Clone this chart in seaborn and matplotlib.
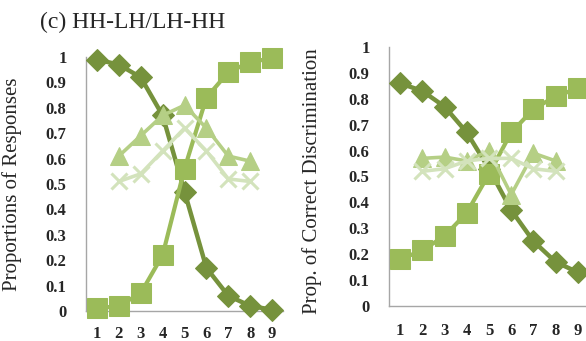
import numpy as np
import pandas as pd
import matplotlib
matplotlib.use('Agg')
import matplotlib.pyplot as plt
import seaborn as sns

steps = [1, 2, 3, 4, 5, 6, 7, 8, 9]
mid_steps = [2, 3, 4, 5, 6, 7, 8]

# panel (c) left: proportions of responses
resp_diamond = [0.99, 0.97, 0.92, 0.77, 0.47, 0.17, 0.06, 0.02, 0.005]
resp_square = [0.01, 0.02, 0.07, 0.22, 0.56, 0.84, 0.94, 0.98, 0.995]
resp_triangle = [0.61, 0.69, 0.77, 0.81, 0.72, 0.61, 0.59]
resp_cross = [0.51, 0.54, 0.63, 0.72, 0.63, 0.52, 0.51]

# right: proportion of correct discrimination
disc_diamond = [0.86, 0.83, 0.77, 0.67, 0.53, 0.37, 0.25, 0.17, 0.13]
disc_square = [0.18, 0.215, 0.27, 0.36, 0.51, 0.67, 0.76, 0.81, 0.84]
disc_triangle = [0.57, 0.575, 0.56, 0.60, 0.43, 0.59, 0.56]
disc_cross = [0.52, 0.53, 0.56, 0.57, 0.57, 0.53, 0.52]

yticks = [0, 0.1, 0.2, 0.3, 0.4, 0.5, 0.6, 0.7, 0.8, 0.9, 1]
ytick_labels = ['0', '0.1', '0.2', '0.3', '0.4', '0.5', '0.6', '0.7', '0.8', '0.9', '1']

c_diamond = '#76923C'
c_square = '#9BBB59'
c_triangle = '#B5CF85'
c_cross = '#D3E3BC'

sns.set_style('white')
plt.rcParams['font.family'] = ['Liberation Serif', 'DejaVu Serif']

W, H = 586, 341
fig = plt.figure(figsize=(W / 100, H / 100), dpi=100)
ax1 = fig.add_axes([86 / W, (H - 311) / H, 197 / W, 254 / H])
ax2 = fig.add_axes([389 / W, (H - 306) / H, 200 / W, 259 / H])


def draw(ax, d, s, t, c):
    sns.lineplot(x=steps, y=d, ax=ax, color=c_diamond, lw=3.2, marker='D',
                 ms=11.5, mec=c_diamond, clip_on=False, zorder=3)
    sns.lineplot(x=steps, y=s, ax=ax, color=c_square, lw=3.0, marker='s',
                 ms=15, mec=c_square, clip_on=False, zorder=4)
    sns.lineplot(x=mid_steps, y=t, ax=ax, color=c_triangle, lw=2.6, marker='^',
                 ms=13, mec=c_triangle, clip_on=False, zorder=5)
    sns.lineplot(x=mid_steps, y=c, ax=ax, color=c_cross, lw=2.6, marker='x',
                 ms=12, mew=2.2, mec=c_cross, clip_on=False, zorder=6)
    ax.set_xlim(0.5, 9.5)
    ax.set_ylim(0, 1)
    ax.set_xticks(steps)
    ax.set_xticklabels([str(v) for v in steps], fontsize=12, fontweight='bold')
    ax.set_yticks(yticks)
    ax.set_yticklabels(ytick_labels, fontsize=12, fontweight='bold')
    ax.tick_params(length=0)
    for side in ['top', 'right']:
        ax.spines[side].set_visible(False)
    for side in ['left', 'bottom']:
        ax.spines[side].set_color('#A6A6A6')
        ax.spines[side].set_linewidth(1.0)


draw(ax1, resp_diamond, resp_square, resp_triangle, resp_cross)
draw(ax2, disc_diamond, disc_square, disc_triangle, disc_cross)

ax1.tick_params(axis='y', pad=14)
ax1.tick_params(axis='x', pad=11)
ax2.tick_params(axis='y', pad=14)
ax2.tick_params(axis='x', pad=12)

ax1.set_ylabel('Proportions of Responses', fontsize=15)
ax1.yaxis.set_label_coords(-0.325, 0.5)
ax2.set_ylabel('Prop. of Correct Discrimination', fontsize=15)
ax2.yaxis.set_label_coords(-0.337, 0.483)

fig.text(40 / W, (H - 28) / H, '(c) HH-LH/LH-HH', fontsize=17,
         ha='left', va='baseline')

fig.savefig('out.png', dpi=100)
